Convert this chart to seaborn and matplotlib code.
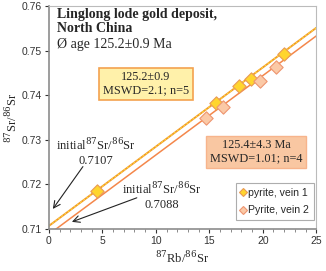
import matplotlib
matplotlib.use("Agg")
import matplotlib.pyplot as plt
from matplotlib.lines import Line2D
import numpy as np
import pandas as pd
import seaborn as sns

# data
vein1_rb = [4.5, 15.6, 17.8, 18.9, 22.0]
vein1_sr = [0.7186, 0.7383, 0.7422, 0.7437, 0.7492]
vein2_rb = [14.7, 16.3, 19.7, 21.2]
vein2_sr = [0.7349, 0.7373, 0.7433, 0.7463]
groups = ['pyrite, vein 1', 'Pyrite, vein 2']

# isochrons: initial ratio and slope
intercepts = [0.7107, 0.7088]
slopes = [0.001778, 0.001781]

x_ticks = [0, 5, 10, 15, 20, 25]
y_ticks = [0.71, 0.72, 0.73, 0.74, 0.75, 0.76]

df = pd.DataFrame({
    'rb': vein1_rb + vein2_rb,
    'sr': vein1_sr + vein2_sr,
    'vein': [groups[0]] * len(vein1_rb) + [groups[1]] * len(vein2_rb),
})

sns.set_theme(style="ticks")
plt.rcParams['font.family'] = ['Liberation Sans', 'DejaVu Sans']
plt.rcParams['mathtext.fontset'] = 'dejavuserif'
serif = ['Liberation Serif', 'DejaVu Serif']

fig = plt.figure(figsize=(3.26, 2.71), dpi=100)
ax = fig.add_axes([0.150, 0.155, 0.820, 0.822])

c1_line = '#F19A2A'
c2_line = '#F4874B'

# isochron lines
xs = np.array([0, 25])
sns.lineplot(x=xs, y=intercepts[0] + slopes[0] * xs, ax=ax, color=c1_line, lw=1.4, zorder=2)
ax.plot(xs, intercepts[0] + slopes[0] * xs, color='#FFE040', lw=0.7, ls=(0, (2, 2)), zorder=2)
sns.lineplot(x=xs, y=intercepts[1] + slopes[1] * xs, ax=ax, color=c2_line, lw=1.1, zorder=2)

sns.scatterplot(data=df[df.vein == groups[0]], x='rb', y='sr', marker='D', s=46,
                color='#FFD52E', edgecolor='#E99A55', linewidth=0.8, ax=ax, zorder=3)
sns.scatterplot(data=df[df.vein == groups[1]], x='rb', y='sr', marker='D', s=46,
                color='#FBC9A6', edgecolor='#EE9570', linewidth=0.8, ax=ax, zorder=3)

ax.set_xlim(0, 25)
ax.set_ylim(0.71, 0.76)
ax.set_xticks(x_ticks)
ax.set_yticks(y_ticks)
ax.set_xticks(np.arange(0, 26, 1), minor=True)
ax.tick_params(axis='both', labelsize=7.5, colors='#333333', length=3, width=0.8, pad=2)
ax.tick_params(axis='x', which='minor', length=2, width=0.6, colors='#777777')
ax.set_xticklabels([str(t) for t in x_ticks])
ax.set_yticklabels([f'{t:.2f}' for t in y_ticks])
for s in ['left', 'bottom']:
    ax.spines[s].set_color('#8C8C8C')
    ax.spines[s].set_linewidth(1.2)
for s in ['top', 'right']:
    ax.spines[s].set_color('#BBBBBB')
    ax.spines[s].set_linewidth(0.8)

ax.set_xlabel(r'$^{87}$Rb/$^{86}$Sr', family=serif, fontsize=9, labelpad=3)
ax.set_ylabel(r'$^{87}$Sr/$^{86}$Sr', family=serif, fontsize=9, labelpad=1)

# title block
ax.text(0.03, 0.99, 'Linglong lode gold deposit,\nNorth China', transform=ax.transAxes,
        family=serif, fontsize=10, fontweight='bold', va='top', ha='left', linespacing=1.1)
ax.text(0.03, 0.83, 'Ø age 125.2±0.9 Ma', transform=ax.transAxes,
        family=serif, fontsize=10, va='center', ha='left')

# result boxes
ax.text(9.07, 0.7426, '125.2±0.9\nMSWD=2.1; n=5', family=serif, fontsize=8.8, ha='center', va='center',
        linespacing=1.1,
        bbox=dict(boxstyle='square,pad=0.3', fc='#FFF1AA', ec='#F4A24F', lw=1.2))
ax.text(19.4, 0.7273, '125.4±4.3 Ma\nMSWD=1.01; n=4', family=serif, fontsize=8.8, ha='center', va='center',
        linespacing=1.1,
        bbox=dict(boxstyle='square,pad=0.3', fc='#F9C7A2', ec='#F7B48C', lw=1.0))

# initial ratio labels and arrows
ax.text(4.4, 0.7273, 'initial$^{87}$Sr/$^{86}$Sr\n0.7107', family=serif, fontsize=9,
        ha='center', va='center', linespacing=1.15)
ax.text(10.6, 0.7174, 'initial$^{87}$Sr/$^{86}$Sr\n0.7088', family=serif, fontsize=9,
        ha='center', va='center', linespacing=1.15)
arrow = dict(arrowstyle='->', color='#222222', lw=0.8, shrinkA=0, shrinkB=0)
ax.annotate('', xy=(0.37, 0.7145), xytext=(3.18, 0.7240), arrowprops=arrow)
ax.annotate('', xy=(2.15, 0.7116), xytext=(8.22, 0.7170), arrowprops=arrow)

handles = [
    Line2D([], [], ls='none', marker='D', ms=4, mfc='#FFD52E', mec='#E99A55', mew=0.8),
    Line2D([], [], ls='none', marker='D', ms=4, mfc='#FBC9A6', mec='#EE9570', mew=0.8),
]
leg = ax.legend(handles, groups, loc='lower right', fontsize=7.6, frameon=True, fancybox=False,
                edgecolor='#999999', handlelength=0.5, handletextpad=0.2, borderpad=0.45,
                labelspacing=0.7, borderaxespad=0.0, bbox_to_anchor=(0.99, 0.04))
leg.get_frame().set_linewidth(0.8)

fig.savefig('out.png', dpi=100)
